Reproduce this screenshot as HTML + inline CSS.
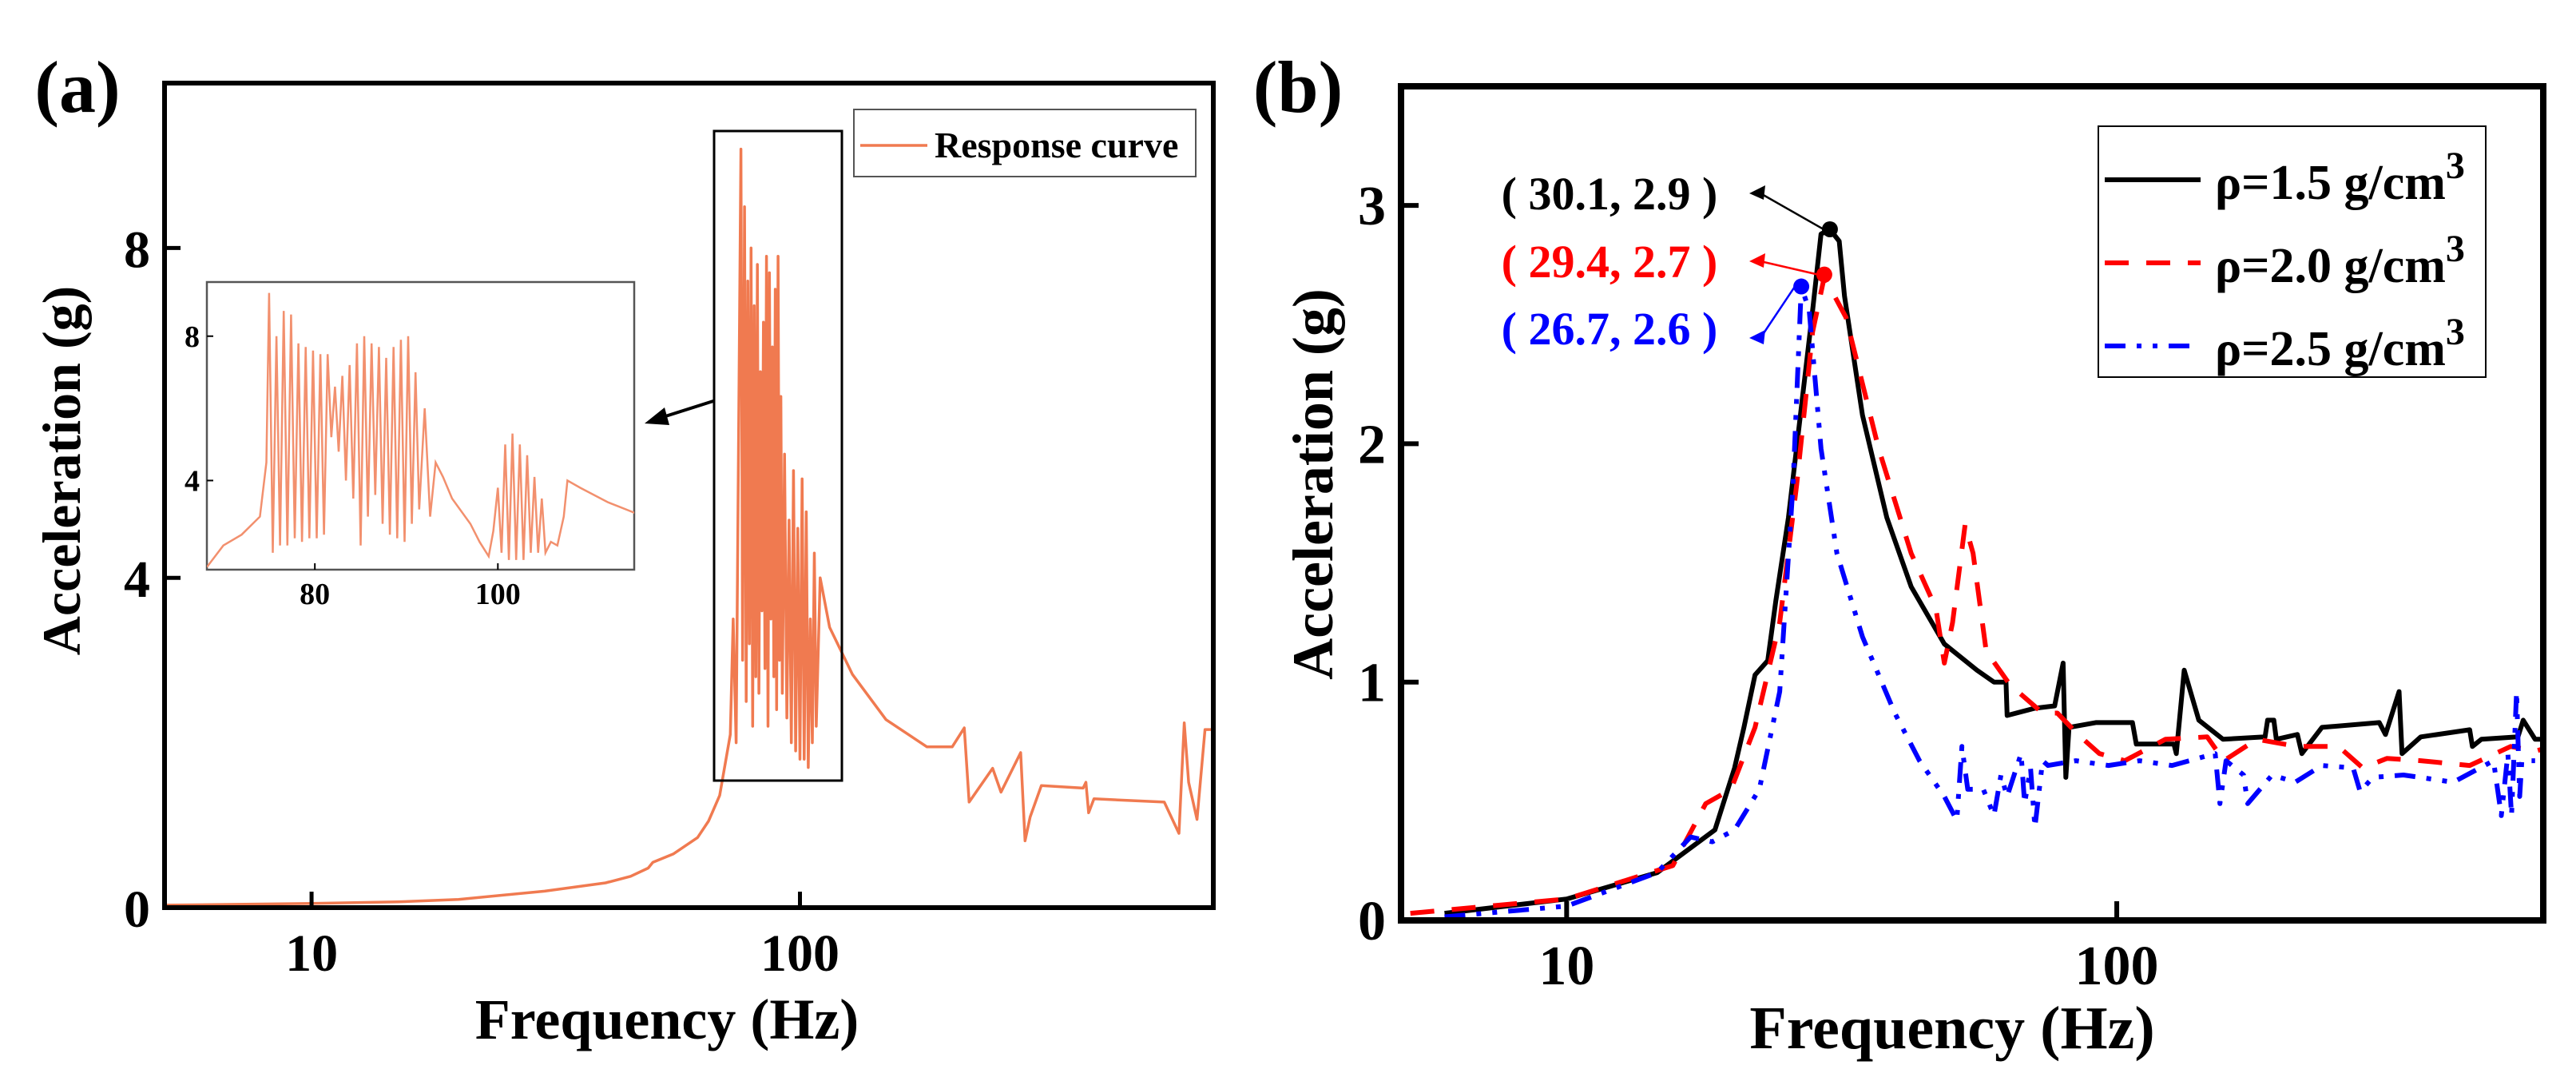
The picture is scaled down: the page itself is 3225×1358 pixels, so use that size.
<!DOCTYPE html>
<html><head><meta charset="utf-8"><style>
html,body{margin:0;padding:0;background:#fff;}
svg{display:block;}
svg text{font-family:"Liberation Serif","DejaVu Serif",serif;font-weight:bold;}
</style></head><body>
<svg id="fig" width="3225" height="1358" viewBox="0 0 3225 1358" xmlns="http://www.w3.org/2000/svg"></svg>
<script>
// ---------- Panel (a) data ----------
const respFreq = [5,7,10,15,20,30,40,45,48.9,50,55,61.7,65,68.5,72,73,74,75.7,76.3,77,77.6,78.2,78.8,79.4,80,80.6,81.2,81.8,82.4,83,83.6,84.2,84.8,85.4,86,86.6,87.2,87.8,88.4,89,89.6,90.2,90.8,91.4,92,93,94,95,96,97,98,99,100,101,102,103,104,105,106,107,108,110,115,128,150,182,205,217,222,248,258,283,289,296,312,380,385,390,400,557,597,612,625,650,675,702];
const respAcc  = [0.03,0.04,0.05,0.07,0.1,0.2,0.3,0.38,0.48,0.55,0.65,0.85,1.05,1.36,2.1,3.5,2.0,9.2,3.0,8.5,2.5,7.6,3.2,8.0,2.2,7.3,2.8,7.8,2.6,6.5,3.6,7.1,2.9,7.9,2.2,7.7,3.5,6.8,2.8,7.5,2.4,7.9,3.0,6.2,2.6,5.5,2.3,4.7,2.0,5.3,1.9,4.6,1.8,5.2,1.8,4.8,1.7,3.5,2.0,4.3,2.2,4.0,3.4,2.83,2.28,1.95,1.95,2.18,1.28,1.69,1.40,1.88,0.81,1.10,1.48,1.45,1.52,1.15,1.32,1.28,0.9,2.24,1.52,1.07,2.16,2.16];
const insetFreq = [68.2,70,72,74,74.7,75.0,75.4,75.8,76.2,76.6,77.0,77.4,77.8,78.2,78.6,79.0,79.4,79.8,80.2,80.6,81.0,81.4,81.8,82.2,82.6,83.0,83.4,83.8,84.2,84.6,85.0,85.4,85.8,86.2,86.6,87.0,87.4,87.8,88.2,88.6,89.0,89.4,89.8,90.2,90.6,91.0,91.4,92.0,92.6,93.2,94,95,97,98,99,99.5,100,100.4,100.8,101.2,101.6,102,102.4,102.8,103.2,103.6,104,104.4,104.8,105.2,105.8,106.5,107.2,107.6,109,112,115];
const insetAcc  = [1.6,2.2,2.5,3.0,4.5,9.2,2.0,8.0,2.2,8.7,2.2,8.6,2.4,7.8,2.3,7.7,2.4,7.6,2.4,7.5,2.5,7.5,5.2,6.6,4.8,6.9,4.0,7.2,3.5,7.8,2.2,8.0,3.0,7.8,3.6,7.7,2.8,7.4,2.5,7.7,2.4,7.9,2.3,8.0,2.8,7.0,3.2,6.0,3.0,4.5,4.1,3.5,2.8,2.3,1.9,2.6,3.8,2.0,5.0,1.8,5.3,1.8,5.0,1.8,4.7,2.0,4.1,2.0,3.5,2.0,2.3,2.2,3.0,4.0,3.8,3.4,3.1];
const aYTicks = [0,4,8];
const aXTicks = [10,100];
const insetYTicks = [4,8];
const insetXTicks = [80,100];

// ---------- Panel (b) data ----------
const bBlackF = [6,10,14.6,18.6,20.2,21,22,23.2,24,25.3,26.6,28,29,30.1,31.3,32,34.5,38.2,42.3,48.6,55.7,59.8,62.9,63.2,70.9,77.1,79.9,80.8,81.9,91.6,106.8,108.5,127,128.3,132.6,141,156,186,188,193,195,213,217,236,300,308,326,330,357,438,443,460,536,548,576,596];
const bBlackA = [0.03,0.09,0.2,0.38,0.64,0.81,1.03,1.09,1.34,1.69,2.12,2.56,2.88,2.9,2.85,2.62,2.12,1.69,1.40,1.16,1.05,1.0,1.0,0.86,0.89,0.9,1.08,0.6,0.81,0.83,0.83,0.74,0.74,0.7,1.05,0.84,0.76,0.77,0.84,0.84,0.76,0.78,0.70,0.81,0.83,0.78,0.96,0.70,0.77,0.80,0.73,0.76,0.77,0.84,0.76,0.76];
const bRedF = [5.2,10,15.6,17.9,19.9,22,24.4,26.2,28,29.4,32.2,36.9,42.3,46.9,48.6,50.3,53,54.8,57.9,63.9,73.3,78,85,93,103.4,122.6,146,156.6,179.7,213,253,280,310,357,438,520,576,596];
const bRedA = [0.03,0.09,0.23,0.49,0.55,0.81,1.25,1.83,2.47,2.7,2.53,1.98,1.54,1.31,1.08,1.25,1.66,1.54,1.13,0.99,0.87,0.87,0.78,0.70,0.67,0.76,0.77,0.67,0.76,0.73,0.73,0.64,0.68,0.67,0.65,0.73,0.71,0.72];
const bBlueF = [6,10,14.6,16.8,18.4,20.2,22.4,24.4,25.8,26.7,27.6,29,31,34.5,39.5,43.8,48.6,51.2,52.3,53.6,57.2,59.8,61.6,63.2,67,68,69.7,71,73.3,75,84.3,96.6,110,126,151,154,158,170,173,191.6,211,236,269,277,292,332,409,484,500,514,522,533,540,545,576];
const bBlueA = [0.015,0.06,0.2,0.35,0.33,0.38,0.55,0.96,1.83,2.66,2.56,1.98,1.54,1.19,0.87,0.67,0.52,0.42,0.73,0.55,0.55,0.44,0.61,0.52,0.70,0.49,0.64,0.39,0.67,0.65,0.67,0.65,0.67,0.65,0.70,0.49,0.67,0.61,0.49,0.61,0.58,0.65,0.64,0.54,0.60,0.61,0.58,0.67,0.44,0.70,0.44,0.96,0.52,0.67,0.67];
const bYTicks = [0,1,2,3];
const bXTicks = [10,100];
const peakF = [30.1,29.4,26.7];
const peakA = [2.9,2.7,2.6];
const peakPlotA = [2.9,2.71,2.66];
const peakLabels = ["( 30.1, 2.9 )","( 29.4, 2.7 )","( 26.7, 2.6 )"];
const legendLabels = ["ρ=1.5 g/cm","ρ=2.0 g/cm","ρ=2.5 g/cm"];

const NS="http://www.w3.org/2000/svg";
const svg=document.getElementById('fig');
function mk(tag,attrs,parent){const e=document.createElementNS(NS,tag);for(const k in attrs)e.setAttribute(k,attrs[k]);
 if(tag==='text'){e.setAttribute('font-family','Liberation Serif, DejaVu Serif, serif');e.setAttribute('font-weight','bold');}
 (parent||svg).appendChild(e);return e;}
function logScale(lo,hi,p0,p1){return v=>p0+(Math.log10(v)-Math.log10(lo))/(Math.log10(hi)-Math.log10(lo))*(p1-p0);}
function linScale(lo,hi,p0,p1){return v=>p0+(v-lo)/(hi-lo)*(p1-p0);}
function pathD(F,A,xs,ys){return F.map((f,i)=>(i?'L':'M')+xs(f).toFixed(1)+','+ys(A[i]).toFixed(1)).join(' ');}

// ================= Panel (a) =================
const ax=logScale(5,702,206,1519), ay=linScale(0,10,1136,104);
let t;
t=mk('text',{x:97,y:140,'font-size':92,'text-anchor':'middle'});t.textContent='(a)';

let clipA=mk('clipPath',{id:'clipA'});mk('rect',{x:206,y:104,width:1313,height:1032},clipA);
let ca=mk('path',{d:pathD(respFreq,respAcc,ax,ay),fill:'none',stroke:'#f07a50','stroke-width':3.5,'stroke-linejoin':'round','clip-path':'url(#clipA)'});

let fa=mk('rect',{x:206,y:104,width:1313,height:1032,fill:'none',stroke:'#000','stroke-width':6});

aYTicks.forEach(v=>{mk('line',{x1:206,x2:226,y1:ay(v),y2:ay(v),stroke:'#000','stroke-width':5});
 let l=mk('text',{x:188,y:ay(v)+24,'font-size':66,'text-anchor':'end'});l.textContent=v;
 });
aXTicks.forEach(v=>{mk('line',{x1:ax(v),x2:ax(v),y1:1136,y2:1116,stroke:'#000','stroke-width':5});
 let l=mk('text',{x:ax(v),y:1215,'font-size':66,'text-anchor':'middle'});l.textContent=v;
 });
t=mk('text',{x:835,y:1300,'font-size':72,'text-anchor':'middle'});t.textContent='Frequency (Hz)';

t=mk('text',{x:0,y:0,'font-size':68,'text-anchor':'middle',transform:'translate(100,589) rotate(-90)'});t.textContent='Acceleration (g)';

let lga=mk('rect',{x:1069,y:137,width:428,height:84,fill:'#fff',stroke:'#555','stroke-width':2});

mk('line',{x1:1077,x2:1161,y1:182,y2:182,stroke:'#f07a50','stroke-width':3.5});
t=mk('text',{x:1170,y:197,'font-size':46});t.textContent='Response curve';

let zb=mk('rect',{x:894,y:164,width:160,height:813,fill:'none',stroke:'#000','stroke-width':3});

mk('line',{x1:893,y1:502,x2:830,y2:522,stroke:'#000','stroke-width':4});
let ah=mk('polygon',{points:'807,530 832,510 838,532',fill:'#000'});

const ix=linScale(68.2,114.9,259,794), iy=linScale(1.53,9.5,713,353);
let ib=mk('rect',{x:259,y:353,width:535,height:360,fill:'#fff',stroke:'#555','stroke-width':2.5});

let clipI=mk('clipPath',{id:'clipI'});mk('rect',{x:259,y:353,width:535,height:360},clipI);
let ic=mk('path',{d:pathD(insetFreq,insetAcc,ix,iy),fill:'none',stroke:'#f2906e','stroke-width':2.5,'clip-path':'url(#clipI)'});

insetYTicks.forEach(v=>{mk('line',{x1:259,x2:267,y1:iy(v),y2:iy(v),stroke:'#000','stroke-width':2});
 let l=mk('text',{x:250,y:iy(v)+13,'font-size':38,'text-anchor':'end'});l.textContent=v;
 });
insetXTicks.forEach(v=>{mk('line',{x1:ix(v),x2:ix(v),y1:713,y2:705,stroke:'#000','stroke-width':2});
 let l=mk('text',{x:ix(v),y:756,'font-size':38,'text-anchor':'middle'});l.textContent=v;
 });

// ================= Panel (b) =================
const bx=logScale(5,596,1754,3184), by=linScale(0,3.5,1152,108);
t=mk('text',{x:1625,y:140,'font-size':92,'text-anchor':'middle'});t.textContent='(b)';

let clipB=mk('clipPath',{id:'clipB'});mk('rect',{x:1754,y:108,width:1430,height:1044},clipB);
const series=[[bBlackF,bBlackA,'#000',''],[bRedF,bRedA,'#ff0000','30 22'],[bBlueF,bBlueA,'#0000ff','26 14 6 14 6 14']];
const sNames=['series-rho-1-5','series-rho-2-0','series-rho-2-5'];
series.forEach((s,i)=>{let p=mk('path',{d:pathD(s[0],s[1],bx,by),fill:'none',stroke:s[2],'stroke-width':6,'stroke-dasharray':s[3],'stroke-linejoin':'round','clip-path':'url(#clipB)'});
 });
let fb=mk('rect',{x:1754,y:108,width:1430,height:1044,fill:'none',stroke:'#000','stroke-width':8});

bYTicks.forEach(v=>{mk('line',{x1:1754,x2:1776,y1:by(v),y2:by(v),stroke:'#000','stroke-width':6});
 let l=mk('text',{x:1735,y:by(v)+24,'font-size':70,'text-anchor':'end'});l.textContent=v;
 });
bXTicks.forEach(v=>{mk('line',{x1:bx(v),x2:bx(v),y1:1152,y2:1128,stroke:'#000','stroke-width':6});
 let l=mk('text',{x:bx(v),y:1232,'font-size':70,'text-anchor':'middle'});l.textContent=v;
 });
t=mk('text',{x:2444,y:1312,'font-size':76,'text-anchor':'middle'});t.textContent='Frequency (Hz)';

t=mk('text',{x:0,y:0,'font-size':72,'text-anchor':'middle',transform:'translate(1668,606) rotate(-90)'});t.textContent='Acceleration (g)';

const pColors=['#000','#ff0000','#0000ff'];
const labY=[242,327,411];
peakF.forEach((f,i)=>{
 let c=mk('circle',{cx:bx(f),cy:by(peakPlotA[i]),r:10,fill:pColors[i]});
 
 const ex=2190, ey=labY[i]+(i==2?12:0);
 mk('line',{x1:bx(f)-8,y1:by(peakPlotA[i]),x2:ex+14,y2:ey,stroke:pColors[i],'stroke-width':2.5});
 mk('polygon',{points:`${ex},${ey} ${ex+20},${ey-10} ${ex+18},${ey+8}`,fill:pColors[i]});
 let l=mk('text',{x:2015,y:labY[i]+20,'font-size':58,'text-anchor':'middle',fill:pColors[i]});l.textContent=peakLabels[i];
 });
let lgb=mk('rect',{x:2627,y:158,width:485,height:314,fill:'#fff',stroke:'#000','stroke-width':2});

const lgY=[225,329,433];
legendLabels.forEach((s,i)=>{
 mk('line',{x1:2635,x2:2755,y1:lgY[i],y2:lgY[i],stroke:pColors[i],'stroke-width':6,'stroke-dasharray':series[i][3]});
 let l=mk('text',{x:2773,y:lgY[i]+24,'font-size':62});l.textContent=s;
 let sup=mk('tspan',{dy:-26,'font-size':48},l);sup.textContent='3';
 });
</script>
</body></html>
